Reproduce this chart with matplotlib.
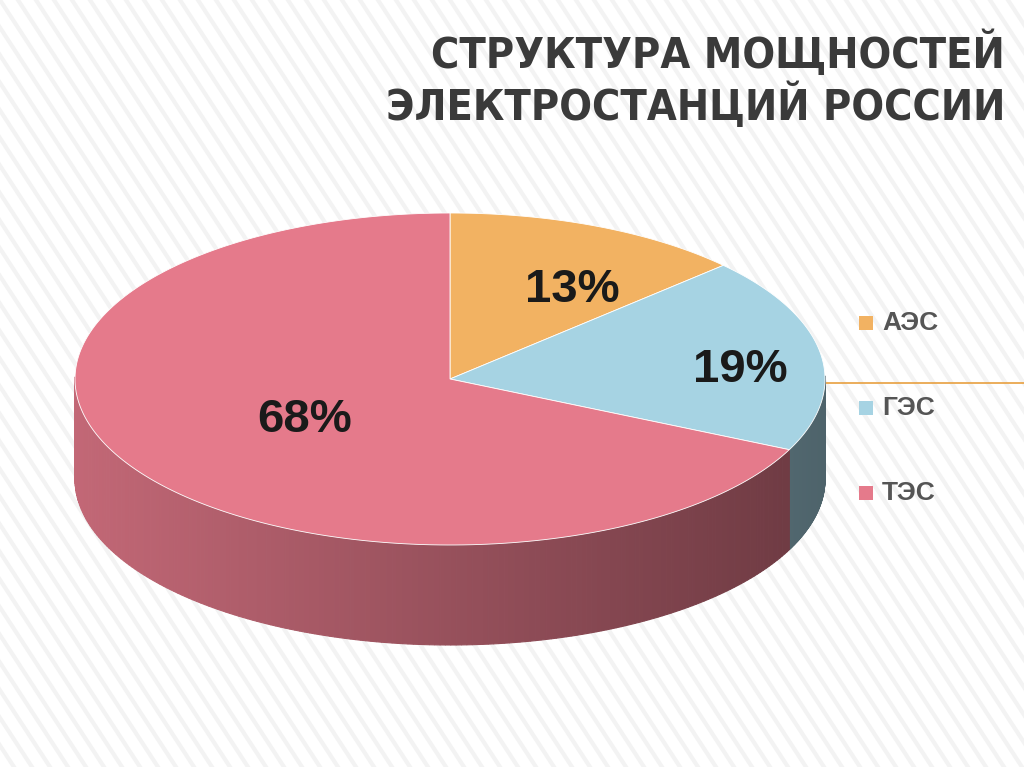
import numpy as np
import matplotlib
matplotlib.use("Agg")
import matplotlib.pyplot as plt
from matplotlib.patches import Polygon, Rectangle
import matplotlib.colors as mc

categories = ["АЭС", "ГЭС", "ТЭС"]
values = [13, 19, 68]
labels = ["13%", "19%", "68%"]
colors = ["#F2B262", "#A6D3E3", "#E57A8B"]
title_lines = ["СТРУКТУРА МОЩНОСТЕЙ", "ЭЛЕКТРОСТАНЦИЙ РОССИИ"]

fig = plt.figure(figsize=(10.24, 7.67), dpi=100)
ax = fig.add_axes([0, 0, 1, 1])
ax.set_xlim(0, 1024); ax.set_ylim(767, 0); ax.axis("off")

for k in range(-40, 80):
    x0 = k * 18
    ax.plot([x0, x0 + 500], [0, 767], color="#f3f3f3", lw=3, zorder=0)

cx, cy, a, b, depth = 450, 379, 375, 166, 100

def pt(t, dy=0):
    return cx + a * np.cos(t), cy - b * np.sin(t) + dy

fracs = np.array(values) / sum(values)
bounds = np.radians(90 - 360 * np.concatenate([[0], np.cumsum(fracs)]))

for i in range(3):
    t1, t0 = bounds[i], bounds[i + 1]
    base = np.array(mc.to_rgb(colors[i]))
    ts = np.linspace(t0, t1, 300)
    for j in range(len(ts) - 1):
        tm = 0.5 * (ts[j] + ts[j + 1])
        if np.sin(tm) > 0.02:
            continue
        xm = np.cos(tm)
        shade = 0.85 - 0.38 * (xm + 1) / 2
        c = np.clip(base * shade, 0, 1)
        x1, y1 = pt(ts[j]); x2, y2 = pt(ts[j + 1])
        ax.add_patch(Polygon([[x1, y1], [x2, y2], [x2, y2 + depth], [x1, y1 + depth]],
                             closed=True, fc=c, ec=c, lw=0.8, zorder=2))

for i in range(3):
    ts = np.linspace(bounds[i], bounds[i + 1], 200)
    xs, ys = pt(ts)
    poly = np.vstack([[cx, cy], np.column_stack([xs, ys])])
    ax.add_patch(Polygon(poly, closed=True, fc=colors[i], ec="white", lw=0.6, zorder=3))

lab_pos = [(572, 290), (740, 370), (305, 420)]
for (x, y), t in zip(lab_pos, labels):
    ax.text(x, y, t, fontsize=34, fontweight="bold", color="#1a1a1a",
            ha="center", va="center", zorder=5, family="Liberation Sans")

ax.plot([826, 1024], [383, 383], color="#E8A040", lw=1.2, zorder=1)
leg_y = [323, 408, 493]
for y, c, n in zip(leg_y, colors, categories):
    ax.add_patch(Rectangle((859, y - 7), 14, 14, fc=c, ec="none", zorder=5))
    ax.text(882, y, n, fontsize=19, fontweight="bold", color="#555555",
            ha="left", va="center", zorder=5, family="Liberation Sans")

for y, t in zip([54, 106], title_lines):
    ax.text(1005, y, t, fontsize=31, fontweight="bold", color="#3a3a3a",
            ha="right", va="center", family="DejaVu Sans", fontstretch="condensed")

fig.savefig("out.png", dpi=100)
